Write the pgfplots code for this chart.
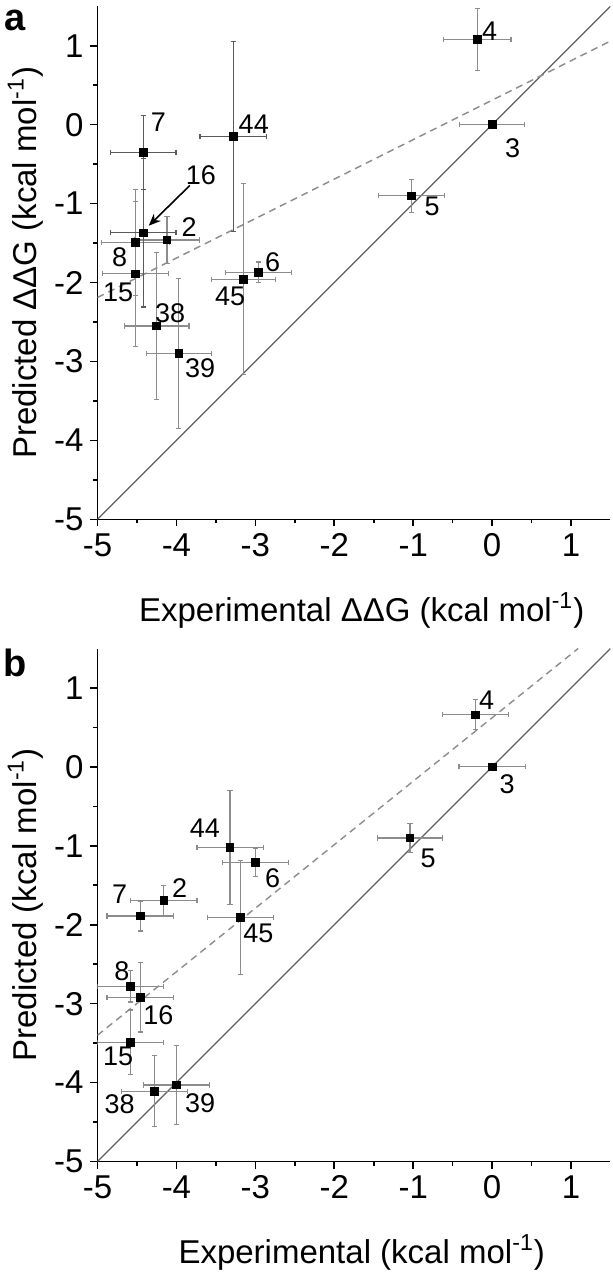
\documentclass[border=0pt]{standalone}
\usepackage{pgfplots}
\usepackage{pgfplotstable}
\pgfplotsset{compat=1.18}
\usepackage{fontspec}
\setmainfont{Liberation Sans}
\usetikzlibrary{arrows.meta}

\definecolor{errc}{RGB}{140,140,140}
\definecolor{errd}{RGB}{90,90,90}
\definecolor{idline}{RGB}{95,95,95}
\definecolor{fitline}{RGB}{140,140,140}

% panel a
\pgfplotstableread{
x y ex ey
-4.42 -0.35 0.415 0.47
-3.28 -0.15 0.42 1.20
-4.42 -1.37 0.415 0.94
}\dataAdark
\pgfplotstableread{
x y ex ey
-0.19 1.08 0.43 0.39
0 0 0.415 0
-1.02 -0.90 0.415 0.21
-4.12 -1.46 0.41 0.30
-4.52 -1.49 0.43 0.67
-4.52 -1.89 0.415 0.92
-4.25 -2.55 0.41 0.93
-3.97 -2.90 0.41 0.95
-3.15 -1.96 0.41 1.21
-2.96 -1.87 0.415 0.13
}\dataAlight
% panel b
\pgfplotstableread{
x y ex ey
-0.21 0.66 0.42 0.19
0 0 0.42 0
-1.04 -0.90 0.41 0.18
-3.32 -1.02 0.42 0.72
-3.00 -1.21 0.42 0.18
-4.16 -1.69 0.42 0.19
-4.46 -1.89 0.42 0.19
-3.19 -1.91 0.42 0.72
-4.58 -2.78 0.415 0.20
-4.46 -2.92 0.42 0.44
-4.58 -3.49 0.415 0.41
-4.28 -4.11 0.42 0.45
-4.00 -4.03 0.42 0.50
}\dataB

\tikzset{
  lab/.style={font=\fontsize{13.5}{14}\selectfont, inner sep=0pt},
}
\pgfplotsset{
  panel/.style={
    width=256.5pt, height=256.5pt, scale only axis,
    xmin=-5, xmax=1.5, ymin=-5, ymax=1.5,
    axis x line*=bottom, axis y line*=left,
    axis line style={-, line width=0.8pt, black},
    xtick={-5,-4,-3,-2,-1,0,1}, ytick={-5,-4,-3,-2,-1,0,1},
    xticklabels={-5,-4,-3,-2,-1,0,1}, yticklabels={-5,-4,-3,-2,-1,0,1},
    minor tick num=1,
    tick align=outside,
    major tick length=3.5pt, minor tick length=2pt,
    every tick/.style={black, line width=0.8pt},
    ticklabel style={font=\fontsize{16.5}{16.5}\selectfont},
    every axis x label/.style={at={(axis description cs:0.515,-0.1774)}, anchor=center, font=\fontsize{16.5}{18}\selectfont},
    every axis y label/.style={at={(axis description cs:-0.1404,0.5)}, rotate=90, anchor=center, font=\fontsize{16.5}{18}\selectfont},
    clip mode=individual,
  },
  errplot/.style={only marks, mark=square*, mark size=1.9pt, black,
    error bars/.cd, x dir=both, x explicit, y dir=both, y explicit,
    error bar style={color=#1, line width=0.6pt},
    error mark options={rotate=90, color=#1, line width=0.6pt, mark size=1.3pt}},
}

\begin{document}
\begin{tikzpicture}
\useasboundingbox (-48.75pt,-377.35pt) rectangle (257.75pt,259.65pt);

% ---------------- panel a ----------------
\begin{axis}[panel, at={(0,0)}, anchor=south west,
  xlabel={Experimental ΔΔG (kcal mol\textsuperscript{-1})},
  ylabel={Predicted ΔΔG (kcal mol\textsuperscript{-1})}]
  \addplot[idline, line width=0.6pt] coordinates {(-5,-5) (1.5,1.5)};
  \addplot[fitline, line width=0.7pt, dash pattern=on 3.5pt off 2.5pt] coordinates {(-5,-2.19) (1.5,1.06)};
  \addplot[errplot=errc] table[x=x, y=y, x error=ex, y error=ey] {\dataAlight};
  \addplot[errplot=errd] table[x=x, y=y, x error=ex, y error=ey] {\dataAdark};
  \draw[-{Stealth[length=6pt,width=5pt]}, black, line width=0.8pt] (axis cs:-3.83,-0.77) -- (axis cs:-4.35,-1.28);
  \node[lab] at (axis cs:-0.03,1.19) {4};
  \node[lab] at (axis cs:0.26,-0.30) {3};
  \node[lab] at (axis cs:-0.76,-1.03) {5};
  \node[lab] at (axis cs:-4.23,0.03) {7};
  \node[lab] at (axis cs:-3.02,0.01) {44};
  \node[lab] at (axis cs:-3.69,-0.64) {16};
  \node[lab] at (axis cs:-3.84,-1.30) {2};
  \node[lab] at (axis cs:-4.72,-1.68) {8};
  \node[lab] at (axis cs:-4.74,-2.12) {15};
  \node[lab] at (axis cs:-4.08,-2.39) {38};
  \node[lab] at (axis cs:-3.70,-3.09) {39};
  \node[lab] at (axis cs:-3.32,-2.18) {45};
  \node[lab] at (axis cs:-2.78,-1.74) {6};
  \node[font=\bfseries\fontsize{19}{19}\selectfont] at (axis description cs:-0.160,0.972) {a};
\end{axis}

% ---------------- panel b ----------------
\begin{axis}[panel, at={(0,-321.1pt)}, anchor=south west,
  xlabel={Experimental (kcal mol\textsuperscript{-1})},
  ylabel={Predicted (kcal mol\textsuperscript{-1})}]
  \addplot[idline, line width=0.6pt] coordinates {(-5,-5) (1.5,1.5)};
  \addplot[fitline, line width=0.7pt, dash pattern=on 3.5pt off 2.5pt] coordinates {(-5,-3.40) (1.09,1.5)};
  \addplot[errplot=errc] table[x=x, y=y, x error=ex, y error=ey] {\dataB};
  \node[lab] at (axis cs:-0.07,0.85) {4};
  \node[lab] at (axis cs:0.19,-0.22) {3};
  \node[lab] at (axis cs:-0.81,-1.16) {5};
  \node[lab] at (axis cs:-3.64,-0.78) {44};
  \node[lab] at (axis cs:-2.78,-1.41) {6};
  \node[lab] at (axis cs:-4.72,-1.61) {7};
  \node[lab] at (axis cs:-3.96,-1.53) {2};
  \node[lab] at (axis cs:-2.96,-2.11) {45};
  \node[lab] at (axis cs:-4.69,-2.59) {8};
  \node[lab] at (axis cs:-4.23,-3.14) {16};
  \node[lab] at (axis cs:-4.74,-3.67) {15};
  \node[lab] at (axis cs:-4.72,-4.27) {38};
  \node[lab] at (axis cs:-3.70,-4.26) {39};
  \node[font=\bfseries\fontsize{19}{19}\selectfont] at (axis description cs:-0.160,0.972) {b};
\end{axis}
\end{tikzpicture}
\end{document}
